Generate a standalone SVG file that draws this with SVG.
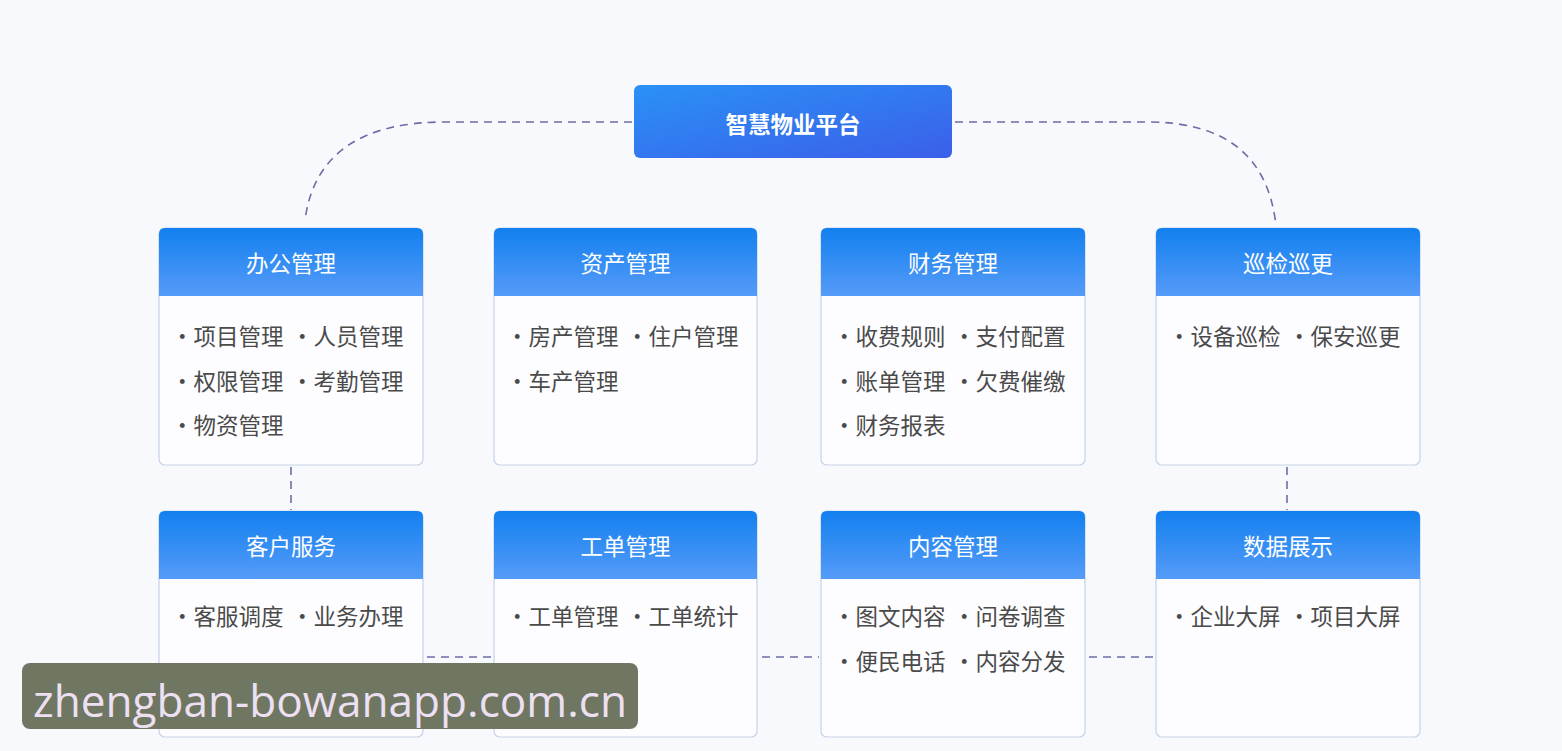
<svg xmlns="http://www.w3.org/2000/svg" width="1562" height="751" viewBox="0 0 1562 751">
<defs>
<linearGradient id="gTop" x1="0" y1="0" x2="1" y2="1">
<stop offset="0" stop-color="#2a91f6"/>
<stop offset="1" stop-color="#3b5fe9"/>
</linearGradient>
<linearGradient id="gHead" x1="0" y1="0" x2="0" y2="1">
<stop offset="0" stop-color="#1280ef"/>
<stop offset="1" stop-color="#569bf8"/>
</linearGradient>
</defs>
<style>
.card{fill:#fdfdff;stroke:#c5d3ea;stroke-width:1.2}
.head{fill:url(#gHead)}
.ht{font-family:"Noto Sans CJK SC","Noto Sans",sans-serif;font-size:22.5px;fill:#ffffff;text-anchor:middle;dominant-baseline:central}
.it{font-family:"Noto Sans CJK SC","Noto Sans",sans-serif;font-size:22.5px;fill:#4a4a4a;dominant-baseline:central}
.dash{fill:none;stroke:#6a6ea6;stroke-width:1.6;stroke-dasharray:8 6}
</style>
<rect width="1562" height="751" fill="#f8f9fc"/>

<g id="connectors">
<path class="dash" d="M632 122 H445 Q318 122 305 220"/>
<path class="dash" d="M955 122 H1148 Q1265 122 1276 226"/>
<path class="dash" d="M291 467 V510"/>
<path class="dash" d="M1287 467 V510"/>
<path class="dash" d="M427 657 H492"/>
<path class="dash" d="M762 657 H819"/>
<path class="dash" d="M1089 657 H1154"/>
</g>

<g id="root">
<rect x="634" y="85" width="318" height="73" rx="6" fill="url(#gTop)"/>
<text x="793" y="123" font-family="'Noto Sans CJK SC','Noto Sans',sans-serif" font-size="22.5" font-weight="bold" fill="#ffffff" text-anchor="middle" dominant-baseline="central">智慧物业平台</text>
</g>

<g id="office" transform="translate(159,228)">
<rect class="card" width="264" height="237" rx="6"/>
<path class="head" d="M0 68 V6 Q0 0 6 0 H258 Q264 0 264 6 V68 Z"/>
<text class="ht" x="132" y="34">办公管理</text>
<text class="it" x="12" y="107">·项目管理</text><text class="it" x="132" y="107">·人员管理</text>
<text class="it" x="12" y="152">·权限管理</text><text class="it" x="132" y="152">·考勤管理</text>
<text class="it" x="12" y="196">·物资管理</text>
</g>

<g id="asset" transform="translate(494,228)">
<rect class="card" width="263" height="237" rx="6"/>
<path class="head" d="M0 68 V6 Q0 0 6 0 H257 Q263 0 263 6 V68 Z"/>
<text class="ht" x="131.5" y="34">资产管理</text>
<text class="it" x="12" y="107">·房产管理</text><text class="it" x="132" y="107">·住户管理</text>
<text class="it" x="12" y="152">·车产管理</text>
</g>

<g id="finance" transform="translate(821,228)">
<rect class="card" width="264" height="237" rx="6"/>
<path class="head" d="M0 68 V6 Q0 0 6 0 H258 Q264 0 264 6 V68 Z"/>
<text class="ht" x="132" y="34">财务管理</text>
<text class="it" x="12" y="107">·收费规则</text><text class="it" x="132" y="107">·支付配置</text>
<text class="it" x="12" y="152">·账单管理</text><text class="it" x="132" y="152">·欠费催缴</text>
<text class="it" x="12" y="196">·财务报表</text>
</g>

<g id="patrol" transform="translate(1156,228)">
<rect class="card" width="264" height="237" rx="6"/>
<path class="head" d="M0 68 V6 Q0 0 6 0 H258 Q264 0 264 6 V68 Z"/>
<text class="ht" x="132" y="34">巡检巡更</text>
<text class="it" x="12" y="107">·设备巡检</text><text class="it" x="132" y="107">·保安巡更</text>
</g>

<g id="service" transform="translate(159,511)">
<rect class="card" width="264" height="226" rx="6"/>
<path class="head" d="M0 68 V6 Q0 0 6 0 H258 Q264 0 264 6 V68 Z"/>
<text class="ht" x="132" y="34">客户服务</text>
<text class="it" x="12" y="104">·客服调度</text><text class="it" x="132" y="104">·业务办理</text>
</g>

<g id="workorder" transform="translate(494,511)">
<rect class="card" width="263" height="226" rx="6"/>
<path class="head" d="M0 68 V6 Q0 0 6 0 H257 Q263 0 263 6 V68 Z"/>
<text class="ht" x="131.5" y="34">工单管理</text>
<text class="it" x="12" y="104">·工单管理</text><text class="it" x="132" y="104">·工单统计</text>
</g>

<g id="content" transform="translate(821,511)">
<rect class="card" width="264" height="226" rx="6"/>
<path class="head" d="M0 68 V6 Q0 0 6 0 H258 Q264 0 264 6 V68 Z"/>
<text class="ht" x="132" y="34">内容管理</text>
<text class="it" x="12" y="104">·图文内容</text><text class="it" x="132" y="104">·问卷调查</text>
<text class="it" x="12" y="149">·便民电话</text><text class="it" x="132" y="149">·内容分发</text>
</g>

<g id="data" transform="translate(1156,511)">
<rect class="card" width="264" height="226" rx="6"/>
<path class="head" d="M0 68 V6 Q0 0 6 0 H258 Q264 0 264 6 V68 Z"/>
<text class="ht" x="132" y="34">数据展示</text>
<text class="it" x="12" y="104">·企业大屏</text><text class="it" x="132" y="104">·项目大屏</text>
</g>

<g id="watermark">
<rect x="22" y="663" width="616" height="66" rx="8" fill="#6a725c" fill-opacity="0.97"/>
<text x="33" y="717" font-family="'Open Sans','Noto Sans',sans-serif" font-size="44" fill="#ece0f2" textLength="594" lengthAdjust="spacingAndGlyphs">zhengban-bowanapp.com.cn</text>
</g>
</svg>
